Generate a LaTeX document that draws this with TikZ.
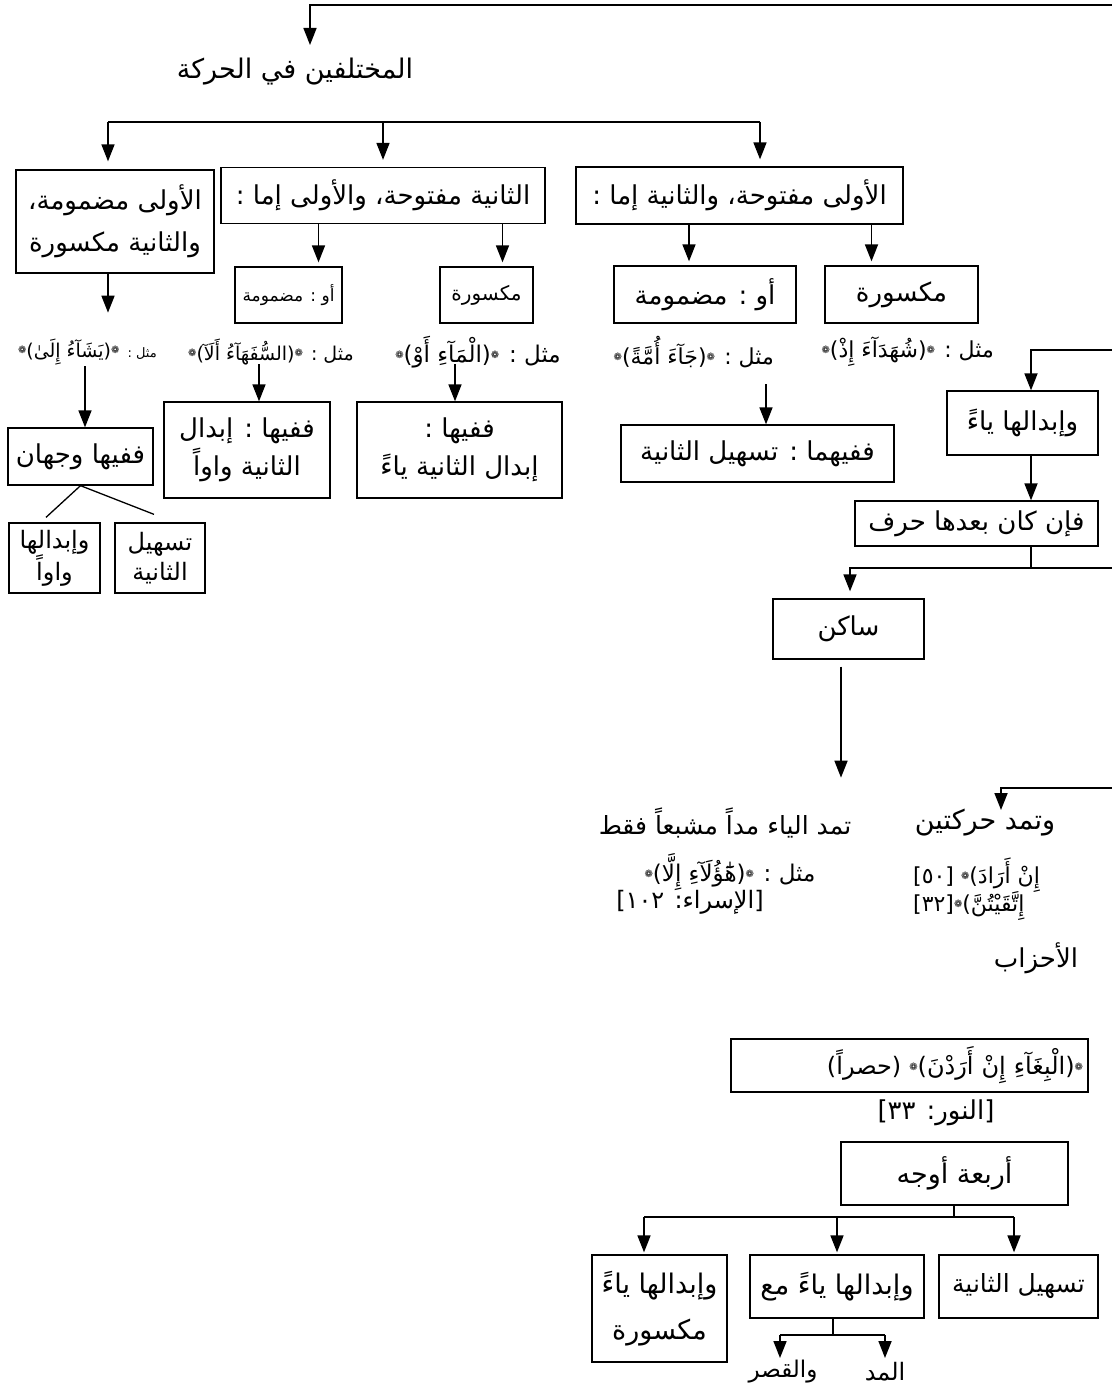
\documentclass[tikz,border=0pt]{standalone}
\usepackage{fontspec}
\newfontfamily\arabicfont[Script=Arabic]{DejaVu Sans}
\newfontfamily\dvs{DejaVu Sans}
\TeXXeTstate=1
\usetikzlibrary{arrows.meta}

\newcommand{\ar}[1]{\beginR#1\endR}
\newcommand{\orn}{{\dvs\fontsize{10}{10}\selectfont\raisebox{4pt}{❁}}}
\newcommand{\fs}[1]{\fontsize{#1}{#1}\selectfont}

\tikzset{
    box/.style={draw, line width=1.3pt, align=center, inner sep=2pt,
        font=\arabicfont\fontsize{26}{36}\selectfont},
    txt/.style={inner sep=1pt, font=\arabicfont\fontsize{26}{30}\selectfont},
    sz/.style 2 args={minimum width=#1pt, minimum height=#2pt},
    arr/.style={line width=1.7pt, -{Triangle[width=13pt,length=17pt]}},
    bar/.style={line width=1.7pt},
}

\begin{document}
\begin{tikzpicture}[x=1pt, y=-1pt]
            \useasboundingbox (0,0) rectangle (1111,1388);

            %top
            \coordinate (topR) at (1112,5);

            \node[txt, font=\arabicfont\fs{27}] (ikh) at (295,72) {\ar{المختلفين في الحركة}};

            \draw[arr] (topR) -| ([xshift=15pt,yshift=27pt]ikh.center);

            %second row
            \node[box, sz={327}{57}] (awF) at (739.5,195.5) {\ar{الأولى مفتوحة، والثانية إما :}};

            \node[box, sz={324}{56}] (thF) at (383,195.5) {\ar{الثانية مفتوحة، والأولى إما :}};

            \node[box, sz={198}{103}] (wlD) at (115,221.5) {\ar{الأولى مضمومة،}\\[6pt]\ar{والثانية مكسورة}};

            \coordinate (barL) at (108,122);

            \coordinate (barR) at (760,122);

            \draw[bar] (barL) -- (barR);

            \draw[arr] (barL) -- ([yshift=8pt]barL |- wlD.north);

            \draw[arr] (thF.north |- barL) -- ([yshift=7pt]thF.north);

            \draw[arr] (barR) -- ([yshift=7pt]barR |- awF.north);

            %third row
            \node[box, sz={182}{57}] (awFa) at (705,294.5) {\ar{أو : مضمومة}};

            \node[box, sz={153}{57}] (awFb) at (901.5,294.5) {\ar{مكسورة}};

            \node[box, sz={107}{56}, font=\arabicfont\fs{17}] (thFa) at (288.5,295) {\ar{أو : مضمومة}};

            \node[box, sz={93}{56}, font=\arabicfont\fs{20}] (thFb) at (486.5,295) {\ar{مكسورة}};

            \draw[arr] ([xshift=-16pt]awFa.north |- awF.south) -- ([xshift=-16pt,yshift=4pt]awFa.north);

            \draw[arr] ([xshift=-30pt]awFb.north |- awF.south) -- ([xshift=-30pt,yshift=4pt]awFb.north);

            \draw[arr] ([xshift=30pt]thFa.north |- thF.south) -- ([xshift=30pt,yshift=4pt]thFa.north);

            \draw[arr] ([xshift=16pt]thFb.north |- thF.south) -- ([xshift=16pt,yshift=4pt]thFb.north);

            \draw[arr] ([xshift=-7pt]wlD.south) -- ([xshift=-7pt,yshift=-39pt]wlD.south);

            %examples
            \node[txt, anchor=east, font=\arabicfont\fs{22}] (exA) at (995,352) {\ar{مثل : \orn(شُهَدَآءَ إِذْ)\orn}};

            \node[txt, anchor=east, font=\arabicfont\fs{22}] (exB) at (775,352) {\ar{مثل : \orn(جَآءَ أُمَّةً)\orn}};

            \node[txt, anchor=east, font=\arabicfont\fs{23}] (exC) at (562,352) {\ar{مثل : \orn(الْمَآءِ أَوْ)\orn}};

            \node[txt, anchor=east, font=\arabicfont\fs{19}] (exD) at (355,352) {\ar{مثل : \orn(السُّفَهَآءُ أَلَآ)\orn}};

            \node[txt, anchor=east, font=\arabicfont\fs{19}] (exE) at (158,352) {\ar{{\fs{13}مثل :} \orn(يَشَآءُ إِلَىٰ)\orn}};

            \node[box, sz={273}{57}] (ffm) at (757.5,453.5) {\ar{ففيهما : تسهيل الثانية}};

            \node[box, sz={205}{96}] (fA) at (459.5,450) {\ar{ففيها :}\\[2pt]\ar{إبدال الثانية ياءً}};

            \node[box, sz={166}{96}] (fW) at (247,450) {\ar{ففيها : إبدال}\\[2pt]\ar{الثانية واواً}};

            \node[box, sz={145}{57}] (wj) at (80.5,456.5) {\ar{ففيها وجهان}};

            \node[box, sz={91}{70}, font=\arabicfont\fontsize{24}{30}\selectfont] (wIb) at (54.5,558) {\ar{وإبدالها}\\\ar{واواً}};

            \node[box, sz={90}{70}, font=\arabicfont\fontsize{24}{30}\selectfont] (tS) at (160,558) {\ar{تسهيل}\\\ar{الثانية}};

            \draw[arr] ([xshift=8.5pt,yshift=40pt]ffm.north) -- ([xshift=8.5pt]ffm.north);

            \draw[arr] ([xshift=-4.5pt,yshift=37pt]fA.north) -- ([xshift=-4.5pt]fA.north);

            \draw[arr] ([xshift=12pt,yshift=37pt]fW.north) -- ([xshift=12pt]fW.north);

            \draw[arr] ([xshift=4.5pt,yshift=61pt]wj.north) -- ([xshift=4.5pt]wj.north);

            \draw[bar, line width=1.3pt] (wj.south) -- ([xshift=-8.5pt,yshift=5pt]wIb.north);

            \draw[bar, line width=1.3pt] (wj.south) -- ([xshift=-6pt,yshift=8pt]tS.north);

            %right branch
            \coordinate (rA) at (1112,350);

            \node[box, sz={151}{64}] (wY) at (1022.5,423) {\ar{وإبدالها ياءً}};

            \node[box, sz={243}{45}] (fk) at (976.5,523.5) {\ar{فإن كان بعدها حرف}};

            \node[box, sz={151}{60}] (sk) at (848.5,629) {\ar{ساكن}};

            \draw[arr] (rA) -| ([xshift=8.5pt]wY.north);

            \draw[arr] ([xshift=8.5pt]wY.south) -- ([xshift=54.5pt]fk.north);

            \coordinate (rB) at (1112,568);

            \draw[bar] ([xshift=54.5pt]fk.south) -- ([xshift=54.5pt]fk.south |- rB);

            \draw[arr] (rB) -| ([xshift=1.5pt,yshift=7pt]sk.north);

            \node[txt, font=\arabicfont\fs{25}] (tmY) at (725,823) {\ar{تمد الياء مداً مشبعاً فقط}};

            \node[txt, font=\arabicfont\fs{23}] (mth) at (730,872) {\ar{مثل : \orn(هَٰٓؤُلَآءِ إِلَّا)\orn}};

            \node[txt, font=\arabicfont\fs{24}] (isr) at (690,902) {\ar{[الإسراء: ١٠٢]}};

            \draw[arr] ([xshift=-7.5pt,yshift=-7pt]sk.south) -- ([xshift=-7.5pt,yshift=-118pt]sk.south);

            \coordinate (rC) at (1112,788);

            \node[txt, font=\arabicfont\fs{27}] (tmH) at (985,823) {\ar{وتمد حركتين}};

            \node[txt, anchor=west, font=\arabicfont\fs{22}] (ird) at (912,875) {\ar{إِنْ أَرَادَ)\orn\ [٥٠]}};

            \node[txt, anchor=west, font=\arabicfont\fs{22}] (itq) at (912,906) {\ar{إِتَّقَيْتُنَّ)\orn[٣٢]}};

            \node[txt] (ahz) at (1036,958) {\ar{الأحزاب}};

            \draw[arr] (rC) -| ([xshift=16pt,yshift=13pt]tmH.center);

            %bottom
            \node[box, sz={357}{53}, text width=347pt, align=right, font=\arabicfont\fs{24}] (bgh) at (909.5,1065.5) {\ar{\orn(الْبِغَآءِ إِنْ أَرَدْنَ)\orn\ (حصراً)}};

            \node[txt] (nur) at (936,1113) {\ar{[النور: ٣٣]}};

            \node[box, sz={227}{63}, font=\arabicfont\fs{27}] (arb) at (954.5,1173.5) {\ar{أربعة أوجه}};

            \node[box, sz={135}{107}, font=\arabicfont\fontsize{27}{46}\selectfont] (wYk) at (659.5,1308.5) {\ar{وإبدالها ياءً}\\\ar{مكسورة}};

            \node[box, sz={174}{63}, font=\arabicfont\fs{27}] (wYm) at (837,1286.5) {\ar{وإبدالها ياءً مع}};

            \node[box, sz={159}{63}, font=\arabicfont\fs{25}] (tS2) at (1018.5,1286.5) {\ar{تسهيل الثانية}};

            \coordinate (jA) at (954,1217);

            \draw[bar] ([xshift=-0.5pt]arb.south) -- (jA);

            \draw[bar] ([xshift=-15.5pt]wYk.north |- jA) -- ([xshift=-4.5pt]tS2.north |- jA);

            \draw[arr] ([xshift=-15.5pt]wYk.north |- jA) -- ([xshift=-15.5pt,yshift=2pt]wYk.north);

            \draw[arr] (wYm.north |- jA) -- ([yshift=2pt]wYm.north);

            \draw[arr] ([xshift=-4.5pt]tS2.north |- jA) -- ([xshift=-4.5pt,yshift=2pt]tS2.north);

            \node[txt, font=\arabicfont\fs{23}] (qsr) at (783,1372) {\ar{والقصر}};

            \node[txt, font=\arabicfont\fs{24}] (mad) at (885,1372) {\ar{المد}};

            \coordinate (jB) at (833,1335);

            \draw[bar] ([xshift=-4pt]wYm.south) -- (jB);

            \draw[bar] ([xshift=-3pt]qsr.center |- jB) -- (mad.center |- jB);

            \draw[arr] ([xshift=-3pt]qsr.center |- jB) -- ([xshift=-3pt,yshift=14pt]qsr.center);

            \draw[arr] (mad.center |- jB) -- ([yshift=14pt]mad.center);
\end{tikzpicture}
\end{document}
